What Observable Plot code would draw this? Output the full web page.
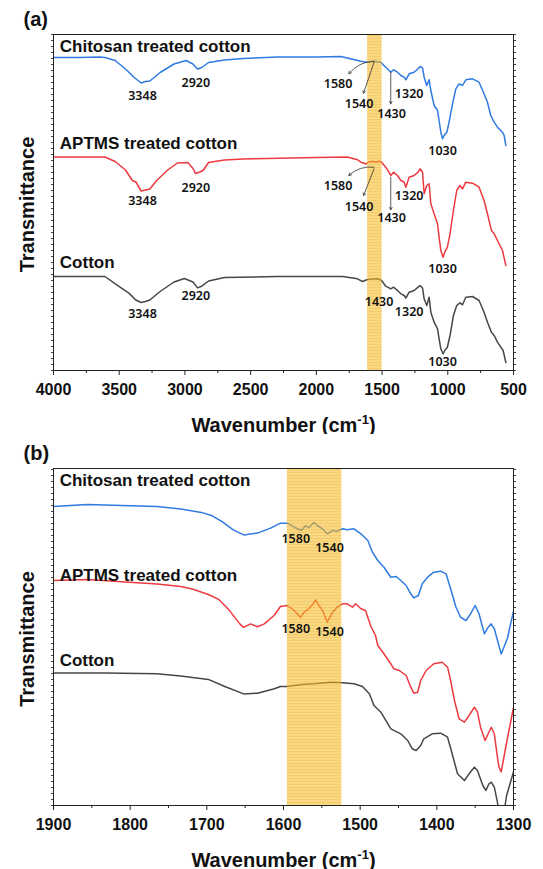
<!DOCTYPE html>
<html><head><meta charset="utf-8">
<script src="https://cdn.jsdelivr.net/npm/d3@7"></script>
<script src="https://cdn.jsdelivr.net/npm/@observablehq/plot@0.6"></script>
<style>body{margin:0;background:#fff}#chart svg{display:block}</style>
</head><body><div id="chart"></div>
<script>
// ---------- DATA (wavenumber cm-1, transmittance a.u.) ----------
const seriesNames = ["Chitosan treated cotton", "APTMS treated cotton", "Cotton"];
const seriesColors = ["#2f7be0", "#ec3a40", "#474747"];

const chitosanA = [[4000,313],[3800,313],[3650,313.5],[3609,313],[3531,310],[3452,301.5],[3386,293],[3333,287.5],[3300,289],[3267,289.5],[3189,298],[3083,306.5],[2991,310],[2939,306.5],[2904,301.5],[2872,303],[2820,308],[2700,310.5],[2556,312],[2293,313.5],[2000,313.5],[1814,314],[1661,309.3],[1624,308.3],[1560,309.3],[1510,308.3],[1472,303.3],[1433,298.3],[1413,300.7],[1383,298.3],[1357,295],[1332,293.3],[1319,290.7],[1294,296.7],[1256,298.3],[1226,301.7],[1210,304],[1192,302.7],[1180,293.3],[1160,285],[1142,290.7],[1129,280],[1104,265],[1078,260],[1066,250],[1053,238.3],[1040,231.7],[1028,235],[1007,238.3],[990,248.3],[964,266.7],[939,281.7],[914,286.7],[888,285],[863,290.7],[812,291.7],[762,288.3],[724,276.7],[698,268.3],[673,255],[647,248.3],[622,243.3],[597,240],[584,238.3],[571,235],[558,225]];
const aptmsA = [[4000,213.5],[3800,213.5],[3609,213.5],[3531,209],[3452,200.5],[3400,190],[3373,188.5],[3333,179.5],[3300,180.5],[3267,181.5],[3215,190],[3131,200.5],[3057,207.5],[2978,208],[2939,202],[2920,197],[2885,198.5],[2859,200.5],[2820,208],[2700,210.5],[2556,211.5],[2000,213],[1765,213.5],[1686,210.7],[1661,208.3],[1624,206.7],[1600,208.3],[1574,209.3],[1548,208.3],[1523,209.3],[1504,208.3],[1472,203.3],[1433,195],[1413,198.3],[1383,195],[1357,190],[1332,188.3],[1319,183.3],[1294,193.3],[1256,195],[1226,198.3],[1210,201.7],[1192,198.3],[1180,176.7],[1160,185],[1142,186.7],[1129,166.7],[1104,156.7],[1078,146.7],[1066,133.3],[1053,120],[1036,113.3],[1023,118.3],[1003,123.3],[983,136.7],[957,160],[932,180],[907,185],[888,181.7],[863,188.3],[812,187.3],[762,183.3],[724,170],[698,156.7],[668,140],[647,136.7],[622,130],[584,120],[558,105]];
const cottonA = [[4000,94],[3609,94],[3505,84.3],[3426,77.4],[3374,70.5],[3333,68],[3300,69],[3267,70.5],[3189,79],[3083,88.5],[3004,92],[2939,88.5],[2904,82.6],[2872,84.3],[2820,89.5],[2700,93],[2300,94],[1800,94],[1687,91.7],[1649,89],[1611,91],[1535,91.7],[1504,90],[1472,84.3],[1433,81.7],[1413,83.3],[1383,80],[1357,76.7],[1332,75],[1319,72.3],[1294,78.3],[1256,80],[1226,83.3],[1210,85],[1192,82.3],[1180,71.7],[1160,65],[1142,73.3],[1129,58.3],[1104,48.3],[1078,41.7],[1066,31.7],[1053,21.7],[1036,16.7],[1023,20],[1003,23.3],[983,35],[957,55],[932,65],[907,67.7],[888,65.7],[863,73.3],[812,74],[762,70],[724,58.3],[698,48.3],[668,38.3],[647,35],[622,28.3],[579,20],[558,8]];

const chitosanB = [[1900,299],[1856,301.1],[1811,300.1],[1765,299],[1734,296.6],[1707,293.1],[1693,289.7],[1680,283.8],[1666,275.8],[1652,270.6],[1634,272.4],[1616,277.6],[1604,282.3],[1595,282.3],[1586,278.3],[1577,275],[1571,280],[1567,277.7],[1560,283.3],[1556,280],[1549,276.7],[1543,271.7],[1536,275],[1530,274.3],[1523,276.7],[1517,275.7],[1508,276.7],[1499,271.7],[1490,265],[1484,253.3],[1477,245],[1469,238.3],[1460,228.3],[1453,229],[1447,225],[1440,220],[1434,211.7],[1430,207.7],[1424,210],[1419,221.7],[1412,228.3],[1404,233.3],[1395,234.3],[1388,231.7],[1382,216.7],[1375,198.3],[1369,188.3],[1362,185],[1356,191.7],[1350,200],[1345,191.7],[1338,171.7],[1333,178.3],[1329,181.7],[1325,176.7],[1322,168.3],[1316,151.4],[1308,167],[1300,194.4]];
const aptmsB = [[1900,224.9],[1856,225.9],[1811,223.8],[1765,221.4],[1734,219],[1718,216.2],[1698,211],[1684,205.8],[1671,195.4],[1657,181.6],[1652,178.1],[1643,181.6],[1634,178.8],[1625,181.6],[1612,190.2],[1604,199],[1595,200],[1586,195],[1578,188.3],[1573,193.3],[1567,196.7],[1562,201],[1558,205.7],[1554,200],[1549,195],[1543,183.3],[1536,193.3],[1530,198.3],[1523,201.7],[1517,201.7],[1510,198.3],[1506,201.7],[1499,196.7],[1493,195],[1486,179],[1480,170],[1477,160],[1469,151.7],[1460,141.7],[1456,136.7],[1449,135],[1440,130],[1434,118.3],[1430,112.3],[1425,113.3],[1421,125],[1414,135],[1404,141.7],[1393,143.3],[1386,138.3],[1382,125],[1377,105],[1371,86.7],[1364,83.3],[1358,90],[1351,98.3],[1347,93.3],[1343,78.3],[1337,65],[1333,71.7],[1329,78.3],[1325,71.7],[1321,48.3],[1319,38.3],[1316,33.6],[1309,63],[1300,98]];
const cottonB = [[1900,132.4],[1833,132.4],[1765,131.7],[1734,129.6],[1698,126.1],[1675,118.5],[1652,111.6],[1634,112.3],[1612,116.8],[1604,119],[1595,119],[1577,121],[1560,121.7],[1538,123.3],[1523,122.7],[1508,121.7],[1497,119],[1488,111.7],[1482,100],[1473,93.3],[1460,76.7],[1447,71.7],[1438,65],[1432,56.7],[1427,55],[1421,60],[1417,66.7],[1406,71.7],[1395,72.3],[1386,68.3],[1380,51.7],[1373,31.7],[1364,25],[1358,31.7],[1351,38.3],[1347,35],[1340,20],[1336,15],[1332,21.7],[1329,23.3],[1325,18.3],[1321,3.3],[1318,-10],[1313,-10],[1309,10],[1300,33.6]];

const ticksA = [4000,3500,3000,2500,2000,1500,1000,500];
const minorA = [3750,3250,2750,2250,1750,1250,750];
const ticksB = [1900,1800,1700,1600,1500,1400,1300];
const minorB = [1850,1750,1650,1550,1450,1350];
const bandA = [1610, 1500];
const bandB = [1595, 1524];

// peak labels: [text, wavenumber, transmittance]
const peaksA = [
  ["3348",3323,274.5],["2920",2917,287.5],["1580",1835,287],["1540",1675,267],["1430",1428,257],["1320",1294,276.5],["1030",1040,220],
  ["3348",3323,170],["2920",2917,183],["1580",1835,185],["1540",1675,164],["1430",1428,153],["1320",1294,175],["1030",1040,102],
  ["3348",3323,57],["2920",2917,74.5],["1430",1523,69],["1320",1294,58.3],["1030",1040,9]
];
const peaksB = [["1580",1584,266.7],["1540",1540,257.3],["1580",1584,176.7],["1540",1540,173.3]];
// arrows: [w1, t1, w2, t2]
const bentArrowsA = [[1561,309.3,1753,296.7],[1561,203.3,1753,195]];
const straightArrowsA = [[1561,308.3,1641,277.3],[1434,298.3,1434,266.7],[1561,201.7,1641,175],[1434,193.3,1434,160.7]];
// series title positions [wavenumber, transmittance]
const titlePosA = [[3952,323.5],[3952,227],[3952,107.5]];
const titlePosB = [[1892,324.5],[1892,230],[1892,145]];

// ---------- DRAW ----------
const FONT = "'Liberation Sans', Arial, sans-serif";
function panel({tag, xDomain, yMax, height, series, ticks, minor, band, bandId, peaks, titles, bent = [], straight = []}) {
  const marks = [
    ...series.map((s, i) => Plot.line(s, {x: d => d[0], y: d => d[1], stroke: seriesColors[i], strokeWidth: 1.5, clip: true})),
    Plot.rect([band], {x1: d => d[0], x2: d => d[1], fill: `url(#${bandId})`, fillOpacity: 0.6}),
    Plot.frame({stroke: "#222", strokeWidth: 1}),
    Plot.axisX(ticks, {tickSize: 5, tickPadding: 8, tickFormat: "d", fontSize: 16, fontWeight: "bold", fill: "#111", label: null, stroke: "#222"}),
    Plot.axisX(minor, {tickSize: 3, text: null, label: null, stroke: "#222"}),
    Plot.axisY(d3.range(0, yMax + 1, 6), {tickSize: 2, text: null, label: null, stroke: "#444"}),
    Plot.axisY(d3.range(0, yMax + 1, 6), {anchor: "right", tickSize: 2, text: null, label: null, stroke: "#444"}),
    Plot.text(titles, {x: d => d[0], y: d => d[1], text: (d, i) => seriesNames[i], textAnchor: "start", lineAnchor: "middle", fontSize: 17, fontWeight: "bold", fill: "#111"}),
    Plot.text(peaks, {x: d => d[1], y: d => d[2], text: d => d[0], fontSize: 12.5, fontFamily: "'Noto Sans', sans-serif", fontWeight: 600, fill: "#111"}),
    Plot.arrow(bent, {x1: d => d[0], y1: d => d[1], x2: d => d[2], y2: d => d[3], bend: -25, stroke: "#333", strokeWidth: 0.8, headLength: 5}),
    Plot.arrow(straight, {x1: d => d[0], y1: d => d[1], x2: d => d[2], y2: d => d[3], stroke: "#333", strokeWidth: 0.8, headLength: 5}),
    Plot.text(["Transmittance"], {frameAnchor: "left", dx: -26, dy: 2, rotate: -90, textAnchor: "middle", lineAnchor: "middle", fontSize: 20, fontWeight: "bold", fill: "#111"}),
    Plot.text(["Wavenumber (cm-1)"], {frameAnchor: "bottom", dy: 54.6, textAnchor: "middle", lineAnchor: "middle", fontSize: 20, fontWeight: "bold", fill: "#111"}),
    Plot.text([tag], {frameAnchor: "top-left", dx: -30, dy: -15, textAnchor: "start", lineAnchor: "middle", fontSize: 20, fontWeight: "bold", fill: "#111"})
  ];
  const svg = Plot.plot({
    width: 543, height, marginTop: 34, marginBottom: 64, marginLeft: 53, marginRight: 30,
    x: {domain: xDomain}, y: {domain: [0, yMax]},
    style: {fontFamily: FONT, background: "white", color: "#111"},
    marks
  });
  const ns = "http://www.w3.org/2000/svg";
  const defs = document.createElementNS(ns, "defs");
  defs.innerHTML = `<pattern id="${bandId}" width="4" height="3" patternUnits="userSpaceOnUse"><rect width="4" height="3" fill="#f7be2c"/><rect y="2" width="4" height="1" fill="#eda812"/></pattern>`;
  svg.insertBefore(defs, svg.firstChild);
  svg.querySelectorAll("text").forEach(t => {
    if (t.textContent === "Wavenumber (cm-1)") {
      t.textContent = "Wavenumber (cm";
      const s = document.createElementNS(ns, "tspan");
      s.setAttribute("dy", "-8"); s.setAttribute("font-size", "13"); s.textContent = "-1";
      const c = document.createElementNS(ns, "tspan");
      c.setAttribute("dy", "8"); c.textContent = ")";
      t.appendChild(s); t.appendChild(c);
    }
  });
  return svg;
}

const root = document.getElementById("chart");
root.appendChild(panel({tag: "(a)", xDomain: [4000, 500], yMax: 336, height: 434,
  series: [chitosanA, aptmsA, cottonA], ticks: ticksA, minor: minorA, band: bandA, bandId: "bandA",
  peaks: peaksA, titles: titlePosA, bent: bentArrowsA, straight: straightArrowsA}));
root.appendChild(panel({tag: "(b)", xDomain: [1900, 1300], yMax: 337, height: 435,
  series: [chitosanB, aptmsB, cottonB], ticks: ticksB, minor: minorB, band: bandB, bandId: "bandB",
  peaks: peaksB, titles: titlePosB}));
</script></body></html>
